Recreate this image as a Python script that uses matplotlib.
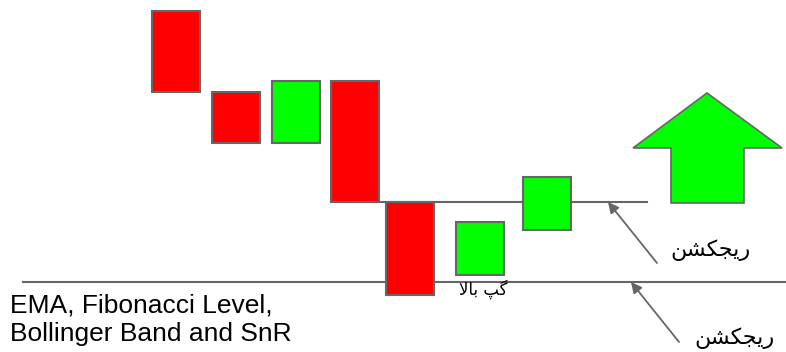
import matplotlib.pyplot as plt
from matplotlib.patches import Rectangle, Polygon

# candles: centre on the time axis, open and close prices
candle_x = [176, 235.5, 295.5, 355, 410, 479.5, 546.5]
candle_open = [341, 260, 209, 271, 150, 77, 122]
candle_close = [260, 209, 271, 150, 57, 130, 175]

# levels: price, start, end
level_price = [150, 70]
level_start = [340, 23]
level_end = [647, 786]

# annotation arrows (tail -> head)
arrow_tail = [(657, 89), (679, 10)]
arrow_head = [(608, 150), (631, 70)]

# big up arrow outline
up_arrow_x = [707, 782, 744, 744, 671, 671, 633]
up_arrow_y = [259, 204, 204, 149, 149, 204, 204]

# Persian labels written as visual (left-to-right) presentation forms
rejection = "\ufee6\ufeb8\ufb91\ufea0\ufbfe\ufead"   # ریجکشن
gap_up = "\ufefb\ufe8e\ufe91 \ufb57\ufb94"            # گپ بالا

EDGE = "#666666"
RED = "#ff0000"
GREEN = "#00ff00"
W = 48

fig = plt.figure(figsize=(7.86, 3.52), dpi=100)
ax = fig.add_axes([0, 0, 1, 1])
ax.set_xlim(0, 786)
ax.set_ylim(0, 352)
ax.axis("off")

for p, x0, x1 in zip(level_price, level_start, level_end):
    ax.plot([x0, x1], [p, p], color=EDGE, lw=1.5, zorder=1)

for x, o, c in zip(candle_x, candle_open, candle_close):
    col = GREEN if c > o else RED
    ax.add_patch(Rectangle((x - W / 2, min(o, c)), W, abs(c - o),
                           facecolor=col, edgecolor=EDGE, lw=1.5, zorder=2))

ax.add_patch(Polygon(list(zip(up_arrow_x, up_arrow_y)), closed=True,
                     facecolor=GREEN, edgecolor=EDGE, lw=1.2, zorder=2))

for t, h in zip(arrow_tail, arrow_head):
    ax.annotate("", xy=h, xytext=t,
                arrowprops=dict(arrowstyle="-|>", color=EDGE, lw=1.3,
                                mutation_scale=16, shrinkA=0, shrinkB=0))

ax.text(711, 102, rejection, family=["DejaVu Sans"], fontsize=16,
        ha="center", va="center")
ax.text(735, 14, rejection, family=["DejaVu Sans"], fontsize=16,
        ha="center", va="center")
ax.text(483, 63, gap_up, family=["DejaVu Sans"], fontsize=12,
        ha="center", va="center")

ax.text(10, 59, "EMA, Fibonacci Level,\nBollinger Band and SnR",
        family=["Liberation Sans"], fontsize=19, ha="left", va="top",
        linespacing=1.25)

fig.savefig("out.png", dpi=100)
